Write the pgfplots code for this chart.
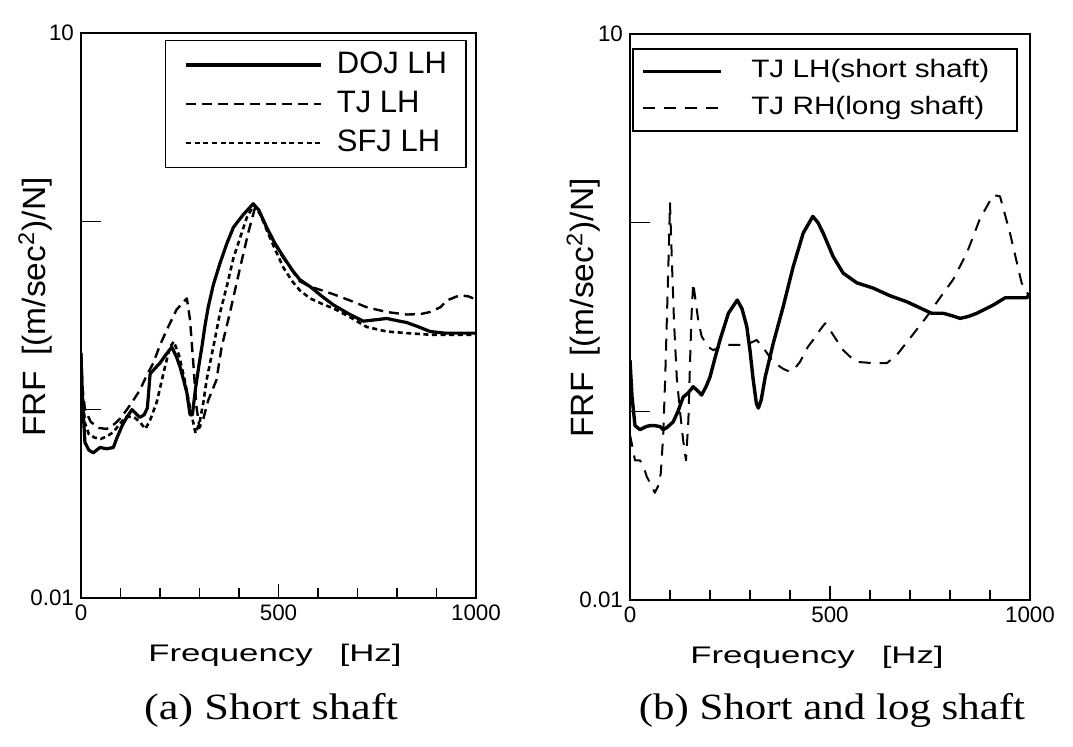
\documentclass[border=0pt]{standalone}
\usepackage{fontspec}
\setmainfont{Liberation Sans}
\newfontfamily\capfont{Liberation Serif}
\usepackage{graphicx}
\usepackage{pgfplots}
\pgfplotsset{compat=1.18}

\begin{document}
\begin{tikzpicture}
\path[use as bounding box] (0,0) rectangle (536.5pt,373pt);

% ---------- (a) ----------
\begin{axis}[
  at={(40.5pt,74pt)}, anchor=south west,
  scale only axis, width=197.5pt, height=282.5pt,
  ymode=log, ymin=0.01, ymax=10, xmin=0, xmax=1000,
  axis line style={line width=0.8pt},
  tick style={black, line width=0.7pt},
  tick align=inside, tick pos=left,
  xtick={0,500,1000}, xticklabels={0,500,1000},
  minor xtick={100,200,300,400,600,700,800,900},
  major tick length=7pt, minor tick length=5pt,
  ytick={0.01,10}, yticklabels={0.01,10}, minor ytick={},
  extra y ticks={0.1,1}, extra y tick labels={},
  extra y tick style={/pgfplots/major tick length=10pt},
  /pgf/number format/assume math mode=true,
  ticklabel style={font=\fontsize{11.2}{13}\selectfont},
  xlabel={\scalebox{1.45}[1]{\fontsize{12}{14}\selectfont Frequency\hspace{0.5em} [Hz]}},
  ylabel={\scalebox{1.35}[1.3]{\fontsize{12.4}{14}\selectfont FRF\hspace{0.2em} [(m/sec\textsuperscript{2})/N]}},
  every axis x label/.style={at={(axis description cs:0.491,-0.113)}, anchor=base},
  every axis y label/.style={at={(axis description cs:-0.116,0.515)}, rotate=90, anchor=center},
  legend cell align=left,
  legend image code/.code={\draw[#1] (0pt,0pt) -- (67.5pt,0pt);},
  legend style={at={(rel axis cs:0.977,0.988)}, anchor=north east,
    draw=black, line width=0.8pt, inner xsep=9.5pt, inner ysep=5pt,
    row sep=5pt, column sep=7pt,
    font=\fontsize{15.5}{18}\selectfont,
    nodes={inner xsep=0pt, inner ysep=0pt, text height=11.5pt, text depth=3pt}},
]
\addplot[black, line width=1.6pt, line join=round] coordinates {
(0,0.20) (3,0.12) (10,0.067) (20,0.061) (31,0.059) (48,0.063) (65,0.062) (82,0.063)
(90,0.070) (105,0.083) (116,0.091) (129,0.100) (140,0.095) (149,0.091) (160,0.094)
(168,0.102) (175,0.155) (190,0.168) (200,0.177) (215,0.196) (230,0.215) (242,0.190)
(251,0.168) (260,0.143) (268,0.123) (276,0.094) (282,0.094) (290,0.130) (300,0.180)
(306,0.215) (314,0.280) (322,0.350) (335,0.460) (352,0.600) (370,0.770) (386,0.930)
(410,1.080) (436,1.240) (450,1.150) (470,0.930) (490,0.770) (512,0.650) (535,0.550)
(554,0.490) (580,0.450) (610,0.400) (639,0.360) (681,0.320) (715,0.295) (745,0.300)
(774,0.305) (800,0.297) (825,0.290) (855,0.275) (884,0.260) (920,0.255) (960,0.255)
(1000,0.255)};
\addlegendentry{DOJ LH}
\addplot[black, line width=1.2pt, dash pattern=on 5pt off 3pt, line join=round] coordinates {
(0,0.20) (4,0.13) (10,0.100) (25,0.086) (45,0.080) (65,0.079) (85,0.084) (100,0.090)
(116,0.100) (130,0.110) (149,0.127) (165,0.150) (183,0.177) (200,0.220) (217,0.265)
(242,0.340) (268,0.390) (276,0.300) (284,0.180) (292,0.105) (300,0.080) (310,0.090)
(322,0.112) (343,0.144) (356,0.215) (377,0.327) (403,0.570) (424,0.880) (441,1.190)
(455,1.080) (470,0.920) (490,0.760) (512,0.640) (554,0.480) (580,0.450) (610,0.430)
(639,0.410) (681,0.380) (723,0.350) (774,0.330) (825,0.320) (860,0.322) (884,0.330)
(910,0.350) (926,0.380) (959,0.405) (980,0.400) (1000,0.385)};
\addlegendentry{TJ LH}
\addplot[black, line width=1.3pt, dash pattern=on 2.5pt off 1.8pt, line join=round] coordinates {
(0,0.20) (4,0.12) (10,0.085) (20,0.074) (35,0.071) (50,0.070) (65,0.072) (82,0.076)
(100,0.085) (116,0.092) (135,0.091) (149,0.086) (163,0.079) (175,0.088) (192,0.110)
(210,0.160) (225,0.215) (235,0.230) (248,0.195) (262,0.145) (275,0.105) (290,0.075)
(300,0.085) (310,0.110) (318,0.144) (335,0.215) (352,0.327) (370,0.460) (386,0.640)
(403,0.820) (420,1.050) (438,1.220) (455,1.080) (470,0.900) (490,0.720) (512,0.570)
(535,0.480) (554,0.430) (580,0.390) (610,0.365) (639,0.345) (681,0.310) (723,0.275)
(774,0.260) (825,0.255) (884,0.250) (940,0.250) (1000,0.250)};
\addlegendentry{SFJ LH}
\end{axis}

% ---------- (b) ----------
\begin{axis}[
  at={(315pt,73pt)}, anchor=south west,
  scale only axis, width=200pt, height=283pt,
  ymode=log, ymin=0.01, ymax=10, xmin=0, xmax=1000,
  axis line style={line width=0.8pt},
  tick style={black, line width=0.7pt},
  tick align=inside, tick pos=left,
  xtick={0,500,1000}, xticklabels={0,500,1000},
  minor xtick={100,200,300,400,600,700,800,900},
  major tick length=7pt, minor tick length=5pt,
  ytick={0.01,10}, yticklabels={0.01,10}, minor ytick={},
  extra y ticks={0.1,1}, extra y tick labels={},
  extra y tick style={/pgfplots/major tick length=10pt},
  /pgf/number format/assume math mode=true,
  ticklabel style={font=\fontsize{11.2}{13}\selectfont},
  xlabel={\scalebox{1.45}[1]{\fontsize{12}{14}\selectfont Frequency\hspace{0.5em} [Hz]}},
  ylabel={\scalebox{1.35}[1.3]{\fontsize{12.4}{14}\selectfont FRF\hspace{0.2em} [(m/sec\textsuperscript{2})/N]}},
  every axis x label/.style={at={(axis description cs:0.4675,-0.113)}, anchor=base},
  every axis y label/.style={at={(axis description cs:-0.116,0.516)}, rotate=90, anchor=center},
  legend cell align=left,
  legend image code/.code={\draw[#1] (0pt,0pt) -- (39pt,0pt);},
  legend style={at={(rel axis cs:0.97,0.975)}, anchor=north east,
    draw=black, line width=0.8pt, inner xsep=4pt, inner ysep=5pt,
    row sep=6pt, column sep=14.5pt,
    font=\fontsize{12.6}{15}\selectfont,
    nodes={inner xsep=0pt, inner ysep=0pt, text height=9.5pt, text depth=3pt}},
]
\addplot[black, line width=1.7pt, line join=round] coordinates {
(0,0.187) (5,0.12) (12.5,0.084) (25,0.080) (40,0.083) (50,0.084) (62,0.084) (75,0.083)
(83,0.080) (92,0.082) (108,0.088) (120,0.100) (133,0.119) (145,0.125) (158,0.135)
(170,0.128) (179,0.122) (190,0.135) (200,0.152) (212,0.190) (225,0.239) (246,0.331)
(268,0.389) (280,0.350) (292,0.281) (300,0.210) (308,0.147) (316,0.110) (321,0.104)
(328,0.115) (338,0.152) (358,0.229) (383,0.359) (408,0.585) (433,0.880) (457,1.080)
(470,1.000) (483,0.880) (508,0.660) (533,0.540) (567,0.480) (608,0.450) (650,0.410)
(692,0.381) (754,0.331) (783,0.331) (808,0.320) (825,0.311) (845,0.318) (867,0.331)
(890,0.350) (908,0.366) (938,0.400) (970,0.400) (992,0.400) (1000,0.420)};
\addlegendentry{\scalebox{1.18}[1]{TJ LH(short shaft)}\hspace*{10pt}}
\addplot[black, line width=1.0pt, dash pattern=on 6pt off 4.5pt, line join=round] coordinates {
(0,0.075) (6,0.065) (12.5,0.055) (25,0.055) (35,0.050) (42,0.045) (55,0.040) (62,0.037)
(70,0.040) (77,0.047) (83,0.075) (88,0.150) (92,0.300) (96,0.600) (100,1.270) (105,0.600)
(110,0.300) (117,0.150) (125,0.100) (133,0.070) (140,0.055) (146,0.090) (150,0.180)
(154,0.330) (158,0.480) (163,0.400) (170,0.310) (179,0.250) (195,0.220) (208,0.211)
(225,0.220) (242,0.225) (275,0.225) (300,0.230) (317,0.239) (338,0.210) (358,0.183)
(383,0.168) (400,0.162) (413,0.170) (425,0.183) (445,0.220) (458,0.239) (475,0.270)
(488,0.293) (500,0.270) (508,0.254) (533,0.211) (550,0.195) (567,0.183) (608,0.180)
(642,0.180) (667,0.199) (700,0.244) (742,0.318) (775,0.400) (808,0.500) (842,0.690)
(875,1.050) (908,1.400) (925,1.380) (950,0.880) (979,0.480) (1000,0.400)};
\addlegendentry{\scalebox{1.18}[1]{TJ RH(long shaft)}\hspace*{10pt}}
\end{axis}

\node[anchor=base] at (135.5pt,13.5pt) {\capfont\fontsize{18.5}{22}\selectfont\scalebox{1.2}[1]{(a) Short shaft}};
\node[anchor=base] at (416pt,13.5pt) {\capfont\fontsize{18.5}{22}\selectfont\scalebox{1.16}[1]{(b) Short and log shaft}};
\end{tikzpicture}
\end{document}
